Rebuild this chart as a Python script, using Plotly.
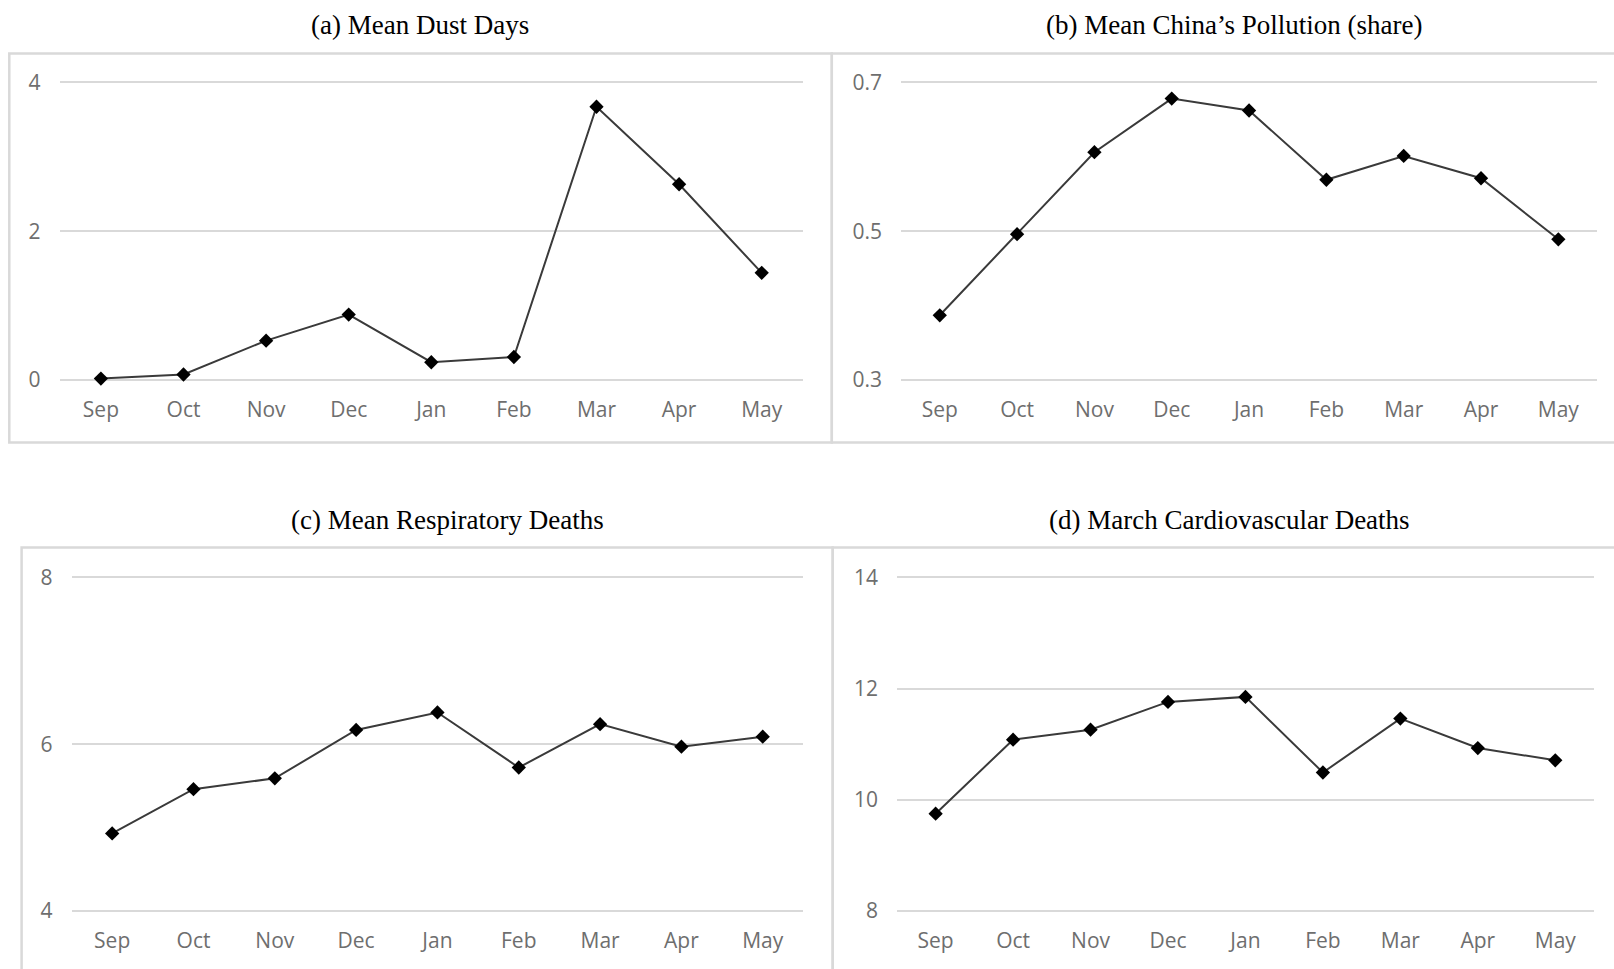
import plotly.graph_objects as go

W, H = 1614, 969

months = ["Sep", "Oct", "Nov", "Dec", "Jan", "Feb", "Mar", "Apr", "May"]

dust_days = [0.02, 0.075, 0.53, 0.88, 0.24, 0.31, 3.67, 2.63, 1.44]
china_pollution = [0.387, 0.496, 0.606, 0.678, 0.662, 0.569, 0.601, 0.571, 0.489]
resp_deaths = [4.93, 5.46, 5.59, 6.17, 6.38, 5.72, 6.24, 5.97, 6.09]
cardio_deaths = [9.75, 11.08, 11.26, 11.76, 11.85, 10.49, 11.46, 10.93, 10.71]

titles = ["(a) Mean Dust Days",
          "(b) Mean China\u2019s Pollution (share)",
          "(c) Mean Respiratory Deaths",
          "(d) March Cardiovascular Deaths"]
y_ranges = [[0, 4], [0.3, 0.7], [4, 8], [8, 14]]
y_ticks = [[0, 2, 4], [0.3, 0.5, 0.7], [4, 6, 8], [8, 10, 12, 14]]
y_ticktext = [["0", "2", "4"], ["0.3", "0.5", "0.7"], ["4", "6", "8"], ["8", "10", "12", "14"]]
series = [dust_days, china_pollution, resp_deaths, cardio_deaths]

# plot areas in pixels: (x0, x1, ytop, ybottom)
areas = [(59.6, 803.0, 81.0, 381.3),
         (901.1, 1597.0, 81.0, 381.3),
         (71.5, 803.4, 576.0, 912.3),
         (896.9, 1594.0, 576.0, 912.3)]
title_pos = [(420, 25), (1234, 25), (447, 520), (1229, 520)]
boxes = [(9.3, 53.5, 831.8, 442.5),
         (831.8, 53.5, 1630, 442.5),
         (21.6, 547.6, 832.7, 1000),
         (832.7, 547.6, 1630, 1000)]

fig = go.Figure()
tick_font = dict(family="Open Sans", size=21, color="#6e6e6e")
grid_col = "#d9d9d9"

for i in range(4):
    sfx = "" if i == 0 else str(i + 1)
    fig.add_trace(go.Scatter(
        x=months, y=series[i], mode="lines+markers",
        line=dict(color="#3a3a3a", width=2),
        marker=dict(symbol="diamond", size=11, color="#000000"),
        xaxis="x" + sfx, yaxis="y" + sfx, showlegend=False,
        cliponaxis=False,
    ))
    x0, x1, yt, yb = areas[i]
    lo, hi = y_ranges[i]
    eps = (hi - lo) * 0.004
    fig.layout["xaxis" + sfx] = dict(
        domain=[x0 / W, x1 / W], anchor="y" + sfx, automargin=False,
        type="category", categoryorder="array", categoryarray=months,
        range=[-0.5, 8.5], showgrid=False, zeroline=False, showline=False,
        ticks="", tickfont=tick_font, ticklabelstandoff=14, fixedrange=True,
    )
    fig.layout["yaxis" + sfx] = dict(
        domain=[1 - yb / H, 1 - yt / H], anchor="x" + sfx, automargin=False,
        range=[lo - eps, hi + eps], tickvals=y_ticks[i], ticktext=y_ticktext[i],
        showgrid=True, gridcolor=grid_col, gridwidth=2, zeroline=False,
        showline=False, ticks="", tickfont=tick_font, ticklabelstandoff=18,
        fixedrange=True,
    )
    tx, ty = title_pos[i]
    fig.add_annotation(
        text=titles[i], x=tx / W, y=1 - ty / H, xref="paper", yref="paper",
        xanchor="center", yanchor="middle", showarrow=False,
        font=dict(family="Liberation Serif", size=27, color="#000000"),
    )
    bx0, by0, bx1, by1 = boxes[i]
    fig.add_shape(type="rect", xref="paper", yref="paper",
                  x0=bx0 / W, x1=bx1 / W, y0=1 - by1 / H, y1=1 - by0 / H,
                  line=dict(color="#d9d9d9", width=2.5), layer="below")

fig.update_layout(
    width=W, height=H, margin=dict(l=0, r=0, t=0, b=0, autoexpand=False),
    paper_bgcolor="white", plot_bgcolor="white",
)

fig.write_html("out.html", config={"displayModeBar": False},
               post_script="document.body.style.margin='0';document.body.style.overflow='hidden';")
